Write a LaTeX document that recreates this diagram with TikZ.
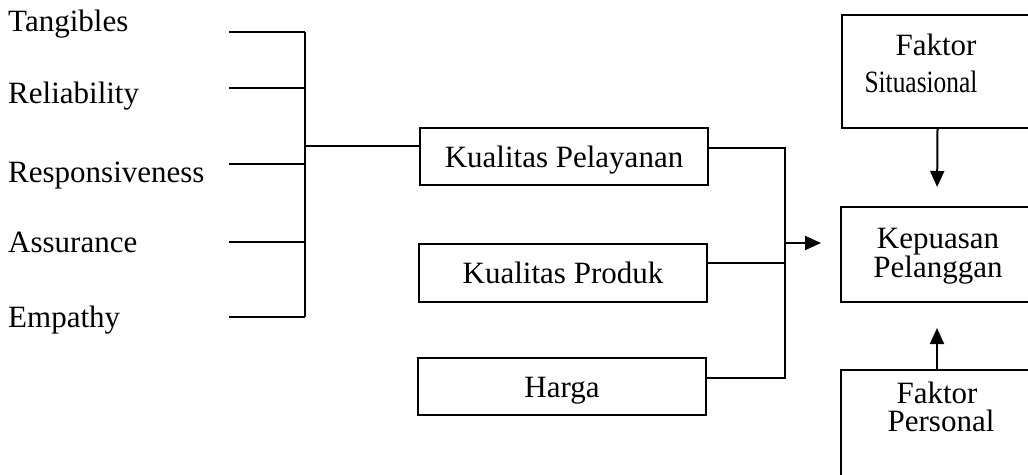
\documentclass[tikz,border=0pt]{standalone}
\usepackage{fontspec}
\setmainfont{Liberation Serif}
\usetikzlibrary{arrows.meta}
\tikzset{
  lbl/.style={inner sep=0pt, anchor=base, font=\fontsize{31}{31}\selectfont},
  lftlbl/.style={lbl, anchor=base west},
  box/.style={draw, line width=2pt, inner sep=0pt},
  wire/.style={line width=2pt},
  arr/.style={wire, -{Triangle[length=16pt,width=14pt]}}
}
\begin{document}
\begin{tikzpicture}[x=1pt,y=-1pt]
\useasboundingbox (0,0) rectangle (1028,474);
\clip (0,0) rectangle (1028,474);
\fill[white] (0,0) rectangle (1028,474);
% left labels
\node[lftlbl] (tan) at (8,31) {Tangibles};
\node[lftlbl] (rel) at (8,103) {Reliability};
\node[lftlbl] (res) at (8,182) {Responsiveness};
\node[lftlbl] (ass) at (8,252) {Assurance};
\node[lftlbl] (emp) at (8,327) {Empathy};
\coordinate (l1) at (229,32);
\coordinate (l2) at (229,88);
\coordinate (l3) at (229,164);
\coordinate (l4) at (229,242);
\coordinate (l5) at (229,317);
\coordinate (bt) at (305,32);
\coordinate (bb) at (305,317);
\coordinate (bj) at (305,146);
% middle boxes
\node[box, minimum width=288pt, minimum height=57pt] (kp) at (564,156.5) {};
\node[lbl] (kpt) at (564,167) {Kualitas Pelayanan};
\node[box, minimum width=288pt, minimum height=58pt] (kpr) at (563,273) {};
\node[lbl] (kprt) at (563,283) {Kualitas Produk};
\node[box, minimum width=288pt, minimum height=57pt] (hg) at (562,386.5) {};
\node[lbl] (hgt) at (562,397) {Harga};
% right boxes
\node[box, minimum width=192pt, minimum height=113pt] (sit) at (937.5,71.5) {};
\node[lbl] (sit1) at (936,55) {Faktor};
\node[lbl] (sit2) at (921,92) {\scalebox{0.82}[1]{Situasional}};
\node[box, minimum width=192pt, minimum height=95pt] (kep) at (937,254.5) {};
\node[lbl] (kep1) at (938,248) {Kepuasan};
\node[lbl] (kep2) at (938,277) {Pelanggan};
\node[box, minimum width=192pt, minimum height=120pt] (per) at (937,430) {};
\node[lbl] (per1) at (937,403) {Faktor};
\node[lbl] (per2) at (941,431) {Personal};
% left bus
\foreach \c in {l1,l2,l3,l4,l5} {\draw[wire] (\c) -- (\c -| bt);}
\draw[wire] (bt) -- (bb);
\draw[wire] (bj) -- (bj -| kp.west);
% right bus
\coordinate (rt) at (785,148);
\coordinate (rb) at (785,378);
\coordinate (rm) at (785,263);
\coordinate (ra) at (785,243);
\draw[wire] (kp.east |- rt) -- (rt) -- (rb) -- (hg.east |- rb);
\draw[wire] (kpr.east |- rm) -- (rm);
\draw[arr, shorten >=19pt] (ra) -- (ra -| kep.west);
% vertical arrows
\draw[arr, shorten >=19pt] (sit.south) -- (kep.north);
\draw[arr, shorten >=25pt] (per.north) -- (kep.south);
\end{tikzpicture}
\end{document}
